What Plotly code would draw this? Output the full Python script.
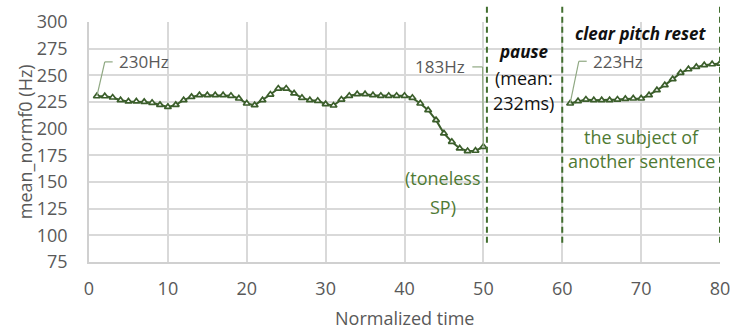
import plotly.graph_objects as go

# Data
x_seg1 = list(range(1, 51))
f0_seg1 = [230.4, 230.4, 229.2, 226.7, 225.5, 225.5, 225.1, 224.2, 222.3, 220.4,
           222.3, 226.7, 229.8, 231.4, 231.4, 231.4, 231.4, 230.8, 228.3, 223.6,
           222.0, 226.7, 232.0, 237.6, 237.6, 233.0, 228.9, 226.7, 226.1, 223.0,
           221.7, 227.3, 230.8, 232.3, 232.3, 231.4, 230.8, 230.8, 230.8, 230.8,
           228.9, 223.6, 217.3, 208.0, 195.5, 187.7, 181.5, 179.0, 179.3, 183.0]
x_seg2 = list(range(61, 81))
f0_seg2 = [223.6, 225.8, 227.3, 226.7, 226.7, 226.7, 227.3, 227.9, 228.3, 228.3,
           231.4, 236.1, 240.8, 246.4, 252.3, 255.7, 257.9, 259.5, 260.4, 261.0]
x_ticks = [0, 10, 20, 30, 40, 50, 60, 70, 80]
y_ticks = [75, 100, 125, 150, 175, 200, 225, 250, 275, 300]
boundaries = [50.45, 60, 80]

LINE = "#3b5e2b"
GREEN_TXT = "#4f7a34"
DASH = "#436f30"
GRAY = "#595959"
LEADER = "#8fa882"
FONT = "Open Sans"
FS = 18

fig = go.Figure()
for xs, ys in [(x_seg1, f0_seg1), (x_seg2, f0_seg2)]:
    fig.add_trace(go.Scatter(
        x=xs, y=ys, mode="lines+markers",
        line=dict(color=LINE, width=2),
        marker=dict(symbol="triangle-up", size=6, color="white",
                    line=dict(color=LINE, width=1.7)),
        showlegend=False, hoverinfo="skip"))

shapes = []
for bx in boundaries:
    shapes.append(dict(type="line", xref="x", yref="paper", x0=bx, x1=bx,
                       y0=0.08, y1=1.065,
                       line=dict(color=DASH, width=2, dash="6px,4px")))
# leader lines
leaders = [
    [(1, 230.4), (2.0, 262.6), (3.0, 262.6)],
    [(50, 183.0), (49.9, 257.9), (48.6, 257.9)],
    [(61, 223.6), (62.1, 263.2), (63.1, 263.2)],
]
for pts in leaders:
    for (xa, ya), (xb, yb) in zip(pts[:-1], pts[1:]):
        shapes.append(dict(type="line", xref="x", yref="y", x0=xa, y0=ya, x1=xb, y1=yb,
                           line=dict(color=LEADER, width=1.2)))

ann = []
def add(text, x, y, color, xanchor="center", bold=False, italic=False, size=FS):
    t = text
    if bold:
        t = "<b>" + t + "</b>"
    if italic:
        t = "<i>" + t + "</i>"
    ann.append(dict(text=t, x=x, y=y, xref="x", yref="y", showarrow=False,
                    xanchor=xanchor, yanchor="middle",
                    font=dict(family=FONT, size=size, color=color)))

add("230Hz", 3.6, 262.6, GRAY, xanchor="left", size=17)
add("183Hz", 47.9, 257.9, GRAY, xanchor="right", size=17)
add("223Hz", 63.6, 263.2, GRAY, xanchor="left", size=17)
add("pause", 55.1, 272, "#111111", bold=True, italic=True, size=17)
add("(mean:", 55.1, 247.2, "#111111", size=FS)
add("232ms)", 55.1, 224, "#111111", size=FS)
add("clear pitch reset", 70.0, 289.1, "#111111", bold=True, italic=True, size=17)
add("the subject of", 70.0, 192.4, GREEN_TXT, size=FS)
add("another sentence", 70.0, 169.3, GREEN_TXT, size=FS)
add("(toneless", 44.9, 153.4, GREEN_TXT, size=FS)
add("SP)", 44.9, 126.8, GREEN_TXT, size=FS)

# axis titles
ann.append(dict(text="Normalized time", xref="paper", yref="paper", x=0.5, y=-0.233,
                xanchor="center", yanchor="middle", showarrow=False,
                font=dict(family=FONT, size=FS, color=GRAY)))
ann.append(dict(text="mean_normf0 (Hz)", xref="paper", yref="paper", x=-0.101, y=0.5,
                xanchor="center", yanchor="middle", textangle=-90, showarrow=False,
                font=dict(family=FONT, size=FS, color=GRAY)))

fig.update_layout(
    width=738, height=329,
    margin=dict(l=89, r=18, t=22, b=67),
    paper_bgcolor="white", plot_bgcolor="white",
    font=dict(family=FONT, size=FS, color=GRAY),
    shapes=shapes, annotations=ann,
    xaxis=dict(range=[0, 80], tickvals=x_ticks, ticktext=[str(v) for v in x_ticks],
               automargin=False,
               showgrid=True, gridcolor="#d9d9d9", gridwidth=1.5,
               showline=True, linecolor="#d0d0d0", linewidth=1.5, zeroline=False,
               ticks="", ticklabelstandoff=10,
               tickfont=dict(family=FONT, size=FS, color=GRAY)),
    yaxis=dict(range=[75, 300], tickvals=y_ticks, ticktext=[str(v) for v in y_ticks],
               automargin=False,
               showgrid=True, gridcolor="#d9d9d9", gridwidth=1.5,
               showline=True, linecolor="#d0d0d0", linewidth=1.5, zeroline=False,
               ticks="", ticklabelstandoff=16,
               tickfont=dict(family=FONT, size=FS, color=GRAY)),
)

fig.write_html("out.html")
